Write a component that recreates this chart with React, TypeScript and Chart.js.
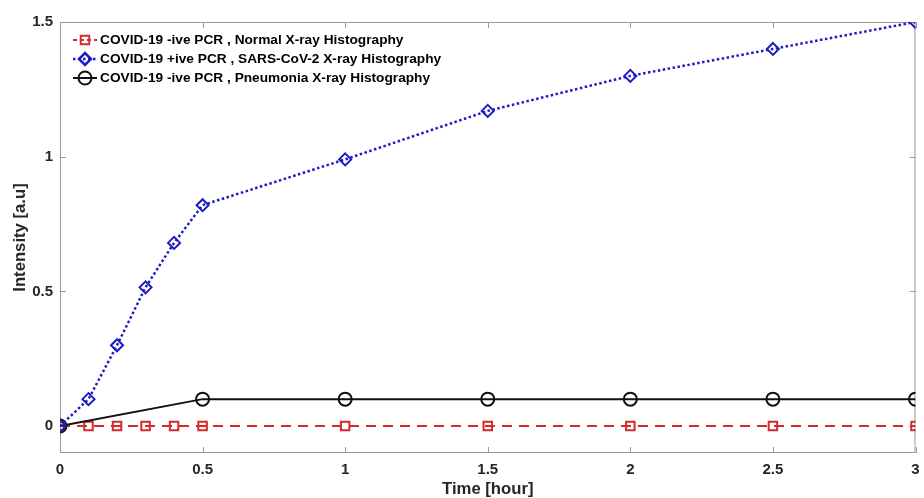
import React, { useEffect, useRef } from "react";
import { Chart, registerables } from "chart.js";

Chart.register(...registerables);

const timeNormal = [0, 0.1, 0.2, 0.3, 0.4, 0.5, 1, 1.5, 2, 2.5, 3];
const normalValues = [0, 0, 0, 0, 0, 0, 0, 0, 0, 0, 0];
const timeSars = [0, 0.1, 0.2, 0.3, 0.4, 0.5, 1, 1.5, 2, 2.5, 3];
const sarsValues = [0, 0.1, 0.3, 0.515, 0.68, 0.82, 0.99, 1.17, 1.3, 1.4, 1.5];
const timePneumonia = [0, 0.5, 1, 1.5, 2, 2.5, 3];
const pneumoniaValues = [0, 0.1, 0.1, 0.1, 0.1, 0.1, 0.1];
const xTicks = [0, 0.5, 1, 1.5, 2, 2.5, 3];
const yTicks = [0, 0.5, 1, 1.5];
const seriesLabels = [
  "COVID-19 -ive PCR , Normal X-ray Histography",
  "COVID-19 +ive PCR , SARS-CoV-2 X-ray Histography",
  "COVID-19 -ive PCR , Pneumonia X-ray Histography",
];

const FONT = "'Liberation Sans', Arial, sans-serif";
const AXIS_COLOR = "#9a9a9a";
const TEXT_COLOR = "#262626";

function drawMarker(ctx: CanvasRenderingContext2D, style: string, x: number, y: number, r: number) {
  ctx.beginPath();
  if (style === "rect") {
    const s = Math.SQRT1_2 * r;
    ctx.rect(x - s, y - s, 2 * s, 2 * s);
  } else if (style === "rectRot") {
    ctx.moveTo(x, y - r);
    ctx.lineTo(x + r, y);
    ctx.lineTo(x, y + r);
    ctx.lineTo(x - r, y);
    ctx.closePath();
  } else {
    ctx.arc(x, y, r, 0, Math.PI * 2);
  }
  ctx.stroke();
}

const boxPlugin = {
  id: "boxPlugin",
  beforeDatasetsDraw(chart: any) {
    const { ctx, chartArea } = chart;
    const { left, right, top, bottom } = chartArea;
    ctx.save();
    ctx.strokeStyle = AXIS_COLOR;
    ctx.lineWidth = 1;
    ctx.setLineDash([]);
    ctx.strokeRect(left + 0.5, top + 0.5, right - left - 1, bottom - top - 1);
    const xs = chart.scales.x;
    const ys = chart.scales.y;
    const tl = 6;
    ctx.beginPath();
    xTicks.forEach((v) => {
      const px = Math.round(xs.getPixelForValue(v)) + 0.5;
      ctx.moveTo(px, bottom);
      ctx.lineTo(px, bottom - tl);
      ctx.moveTo(px, top);
      ctx.lineTo(px, top + tl);
    });
    yTicks.forEach((v) => {
      const py = Math.round(ys.getPixelForValue(v)) + 0.5;
      ctx.moveTo(left, py);
      ctx.lineTo(left + tl, py);
      ctx.moveTo(right, py);
      ctx.lineTo(right - tl, py);
    });
    ctx.stroke();
    ctx.restore();
  },
};

const legendPlugin = {
  id: "customLegend",
  afterDraw(chart: any) {
    const { ctx, chartArea } = chart;
    const x0 = chartArea.left + 13;
    const y0 = chartArea.top + 18;
    const rowH = 19;
    ctx.save();
    chart.data.datasets.forEach((ds: any, i: number) => {
      const y = y0 + i * rowH;
      ctx.strokeStyle = ds.borderColor;
      ctx.lineWidth = ds.borderWidth;
      ctx.setLineDash(ds.legendDash || []);
      ctx.beginPath();
      ctx.moveTo(x0, y);
      ctx.lineTo(x0 + 24, y);
      ctx.stroke();
      ctx.setLineDash([]);
      drawMarker(ctx, ds.pointStyle, x0 + 12, y, ds.pointRadius);
      ctx.fillStyle = "#000";
      ctx.font = `bold 13.7px ${FONT}`;
      ctx.textBaseline = "middle";
      ctx.textAlign = "left";
      ctx.fillText(ds.label, x0 + 27, y);
    });
    ctx.restore();
  },
};

export default function App() {
  const ref = useRef<HTMLCanvasElement | null>(null);
  useEffect(() => {
    document.body.style.margin = "0";
    const canvas = ref.current;
    if (!canvas) return;
    const red = "#d42a2a";
    const blue = "#1c1cc4";
    const black = "#111111";
    const chart = new Chart(canvas, {
      type: "line",
      data: {
        datasets: [
          {
            label: seriesLabels[0],
            data: timeNormal.map((t, i) => ({ x: t, y: normalValues[i] })),
            borderColor: red,
            borderWidth: 2,
            borderDash: [10, 7],
            legendDash: [4, 3],
            pointStyle: "rect",
            pointRadius: 6,
            pointBorderWidth: 2,
            pointBorderColor: red,
            pointBackgroundColor: "rgba(0,0,0,0)",
            fill: false,
            tension: 0,
            order: 3,
          } as any,
          {
            label: seriesLabels[1],
            data: timeSars.map((t, i) => ({ x: t, y: sarsValues[i] })),
            borderColor: blue,
            borderWidth: 2.5,
            borderDash: [2.5, 2.5],
            legendDash: [2.5, 2.5],
            pointStyle: "rectRot",
            pointRadius: 6,
            pointBorderWidth: 2,
            pointBorderColor: blue,
            pointBackgroundColor: "rgba(0,0,0,0)",
            fill: false,
            tension: 0,
            order: 1,
          } as any,
          {
            label: seriesLabels[2],
            data: timePneumonia.map((t, i) => ({ x: t, y: pneumoniaValues[i] })),
            borderColor: black,
            borderWidth: 2,
            borderDash: [],
            legendDash: [],
            pointStyle: "circle",
            pointRadius: 6.5,
            pointBorderWidth: 2,
            pointBorderColor: black,
            pointBackgroundColor: "rgba(0,0,0,0)",
            fill: false,
            tension: 0,
            order: 2,
          } as any,
        ],
      },
      options: {
        animation: false,
        responsive: false,
        maintainAspectRatio: false,
        layout: { padding: { top: 22, right: 6, left: 0, bottom: 0 } },
        plugins: {
          legend: { display: false },
          tooltip: { enabled: false },
        },
        scales: {
          x: {
            type: "linear",
            min: 0,
            max: 3,
            afterBuildTicks: (s: any) => {
              s.ticks = xTicks.map((v) => ({ value: v }));
            },
            afterFit: (s: any) => {
              s.height = 45;
              s.paddingLeft = 0;
              s.paddingRight = 0;
            },
            grid: { display: false, drawTicks: false },
            border: { display: false },
            ticks: {
              autoSkip: false,
              maxRotation: 0,
              padding: 8,
              color: TEXT_COLOR,
              font: { family: FONT, size: 15, weight: "bold" },
              callback: (v: any) => String(v),
            },
            title: {
              display: true,
              text: "Time [hour]",
              color: TEXT_COLOR,
              font: { family: FONT, size: 16.7, weight: "bold", lineHeight: 1 },
              padding: { top: 0, bottom: 0 },
            },
          },
          y: {
            type: "linear",
            min: -0.1,
            max: 1.5,
            afterBuildTicks: (s: any) => {
              s.ticks = yTicks.map((v) => ({ value: v }));
            },
            afterFit: (s: any) => {
              s.width = 60;
              s.paddingTop = 0;
              s.paddingBottom = 0;
            },
            grid: { display: false, drawTicks: false },
            border: { display: false },
            ticks: {
              autoSkip: false,
              padding: 7,
              color: TEXT_COLOR,
              font: { family: FONT, size: 15, weight: "bold" },
              callback: (v: any) => String(v),
            },
            title: {
              display: true,
              text: "Intensity [a.u]",
              color: TEXT_COLOR,
              font: { family: FONT, size: 16.7, weight: "bold", lineHeight: 1 },
              padding: { top: 12, bottom: 0 },
            },
          },
        },
      } as any,
      plugins: [boxPlugin, legendPlugin],
    });
    return () => chart.destroy();
  }, []);
  return (
    <div style={{ width: 924, height: 498, position: "relative", background: "#fff" }}>
      <canvas ref={ref} width={924} height={498} />
    </div>
  );
}
